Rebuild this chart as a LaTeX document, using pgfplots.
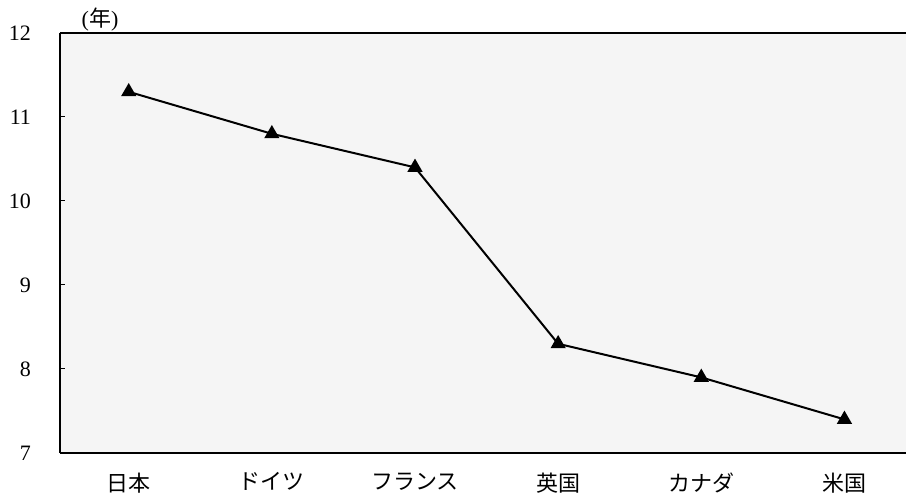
\documentclass[border=0pt]{standalone}
\usepackage{fontspec}
\setmainfont{Liberation Serif}
\newfontfamily\jp{Noto Sans CJK JP}
\usepackage{pgfplots}
\pgfplotsset{compat=1.18}

\begin{document}
\begin{tikzpicture}
\begin{axis}[
  scale only axis,
  width=423pt, height=210pt,
  xmin=-0.48, xmax=5.43,
  ymin=7, ymax=12,
  axis x line=bottom, axis y line=left,
  x axis line style={-, line width=1pt},
  y axis line style={-, line width=1pt},
  axis background/.style={fill=black!4},
  ytick={7,8,9,10,11,12},
  xtick={0,1,2,3,4,5},
  xticklabels={日本,ドイツ,フランス,英国,カナダ,米国},
  xticklabel style={font=\jp\fontsize{11}{13}\selectfont, yshift=-6.3pt},
  yticklabel style={font=\fontsize{11}{13}\selectfont, xshift=-11pt},
  /pgf/number format/assume math mode=true,
  major x tick style={draw=none},
  extra x ticks={0.5,1.5,2.5,3.5,4.5},
  extra x tick labels={},
  extra x tick style={major tick length=2.5pt, tick style={black, line width=0.5pt}, tick align=inside},
  ytick style={black, line width=0.5pt},
  major tick length=2.5pt,
  tick align=inside,
  clip=false,
]
\addplot[black, line width=1pt, mark=triangle*, mark size=3.4pt]
  coordinates {(0,11.3) (1,10.8) (2,10.4) (3,8.3) (4,7.9) (5,7.4)};
% top frame line (the frame is open on the right)
\draw[line width=1pt] (rel axis cs:0,1) -- (rel axis cs:1,1);
\node[font=\fontsize{11}{13}\selectfont, anchor=center]
  at (axis description cs:0,1) [xshift=20pt, yshift=6.5pt] {(\jp 年\rmfamily)};
\coordinate (ll) at (rel axis cs:0,0);
\end{axis}
\pgfresetboundingbox
\path[use as bounding box] ([shift={(-30pt,-21.5pt)}]ll) rectangle ([shift={(423pt,226.5pt)}]ll);
\end{tikzpicture}
\end{document}
